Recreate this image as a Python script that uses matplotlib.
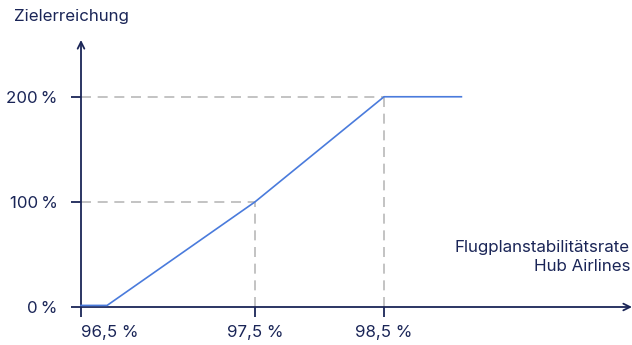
import matplotlib
matplotlib.use("Agg")
import matplotlib.pyplot as plt
import numpy as np

# data: target achievement vs. schedule stability rate
stability = [96.5, 96.65, 97.5, 98.5, 99.1]
achievement = [1.5, 1.5, 100, 200, 200]
x_ticks = [96.5, 97.5, 98.5]
x_tick_labels = ["96,5 %", "97,5 %", "98,5 %"]
y_ticks = [0, 100, 200]
y_tick_labels = ["0\u2009%", "100\u2009%", "200\u2009%"]
guide_points = [(97.5, 100), (98.5, 200)]

NAVY = "#1a2557"
BLUE = "#4a7bdc"
GREY = "#b9b9b9"

plt.rcParams["font.family"] = ["Inter", "DejaVu Sans"]
FS = 12.2

# the x axis is not linear in the source: piecewise mapping between ticks
knots = np.array([96.5, 97.5, 98.5])
pos = np.array([0.0, 174.0, 303.0])


def fwd(v):
    v = np.asarray(v, dtype=float)
    out = np.interp(v, knots, pos)
    out = np.where(v > knots[-1], pos[-1] + (v - knots[-1]) * 129.0, out)
    out = np.where(v < knots[0], (v - knots[0]) * 174.0, out)
    return out


def inv(p):
    p = np.asarray(p, dtype=float)
    out = np.interp(p, pos, knots)
    out = np.where(p > pos[-1], knots[-1] + (p - pos[-1]) / 129.0, out)
    out = np.where(p < pos[0], knots[0] + p / 174.0, out)
    return out


fig = plt.figure(figsize=(6.32, 3.45), dpi=100)
ax = fig.add_axes([81 / 632, 38 / 345, 551 / 632, 267 / 345])
ax.set_xscale("function", functions=(fwd, inv))
ax.set_xlim(96.5, float(inv(551.0)))
ax.set_ylim(0, 254)

for s in ax.spines.values():
    s.set_visible(False)

# dashed guides
for gx, gy in guide_points:
    ax.plot([96.5, gx], [gy, gy], color=GREY, lw=1.2, ls=(0, (6, 4)), zorder=1)
    ax.plot([gx, gx], [0, gy], color=GREY, lw=1.2, ls=(0, (6, 4)), zorder=1)

ax.plot(stability, achievement, color=BLUE, lw=1.2, zorder=5, clip_on=False)

# axes with open arrowheads
ax.annotate("", xy=(1.0, 0), xycoords=("axes fraction", "data"),
            xytext=(0, 0), textcoords=("axes fraction", "data"),
            arrowprops=dict(arrowstyle="->", color=NAVY, lw=1.3,
                            shrinkA=0, shrinkB=0, mutation_scale=12))
ax.annotate("", xy=(96.5, 1.0), xycoords=("data", "axes fraction"),
            xytext=(96.5, 0), textcoords=("data", "axes fraction"),
            arrowprops=dict(arrowstyle="->", color=NAVY, lw=1.3,
                            shrinkA=0, shrinkB=0, mutation_scale=12))

ax.set_xticks(x_ticks)
ax.set_xticklabels(x_tick_labels)
ax.set_yticks(y_ticks)
ax.set_yticklabels(y_tick_labels)
ax.xaxis.set_minor_locator(matplotlib.ticker.NullLocator())
ax.tick_params(axis="both", colors=NAVY, labelcolor=NAVY, labelsize=FS,
               length=7, width=1.3, direction="out")
ax.tick_params(axis="y", pad=10)
ax.tick_params(axis="x", pad=6)
ax.get_xticklabels()[0].set_horizontalalignment("left")

fig.text(14 / 632, 1 - 17 / 345, "Zielerreichung", color=NAVY, fontsize=FS,
         ha="left", va="center")
fig.text(630 / 632, 1 - 257 / 345, "Flugplanstabilitätsrate\nHub Airlines",
         color=NAVY, fontsize=FS, ha="right", va="center", linespacing=1.4)

fig.savefig("out.png", dpi=100)
